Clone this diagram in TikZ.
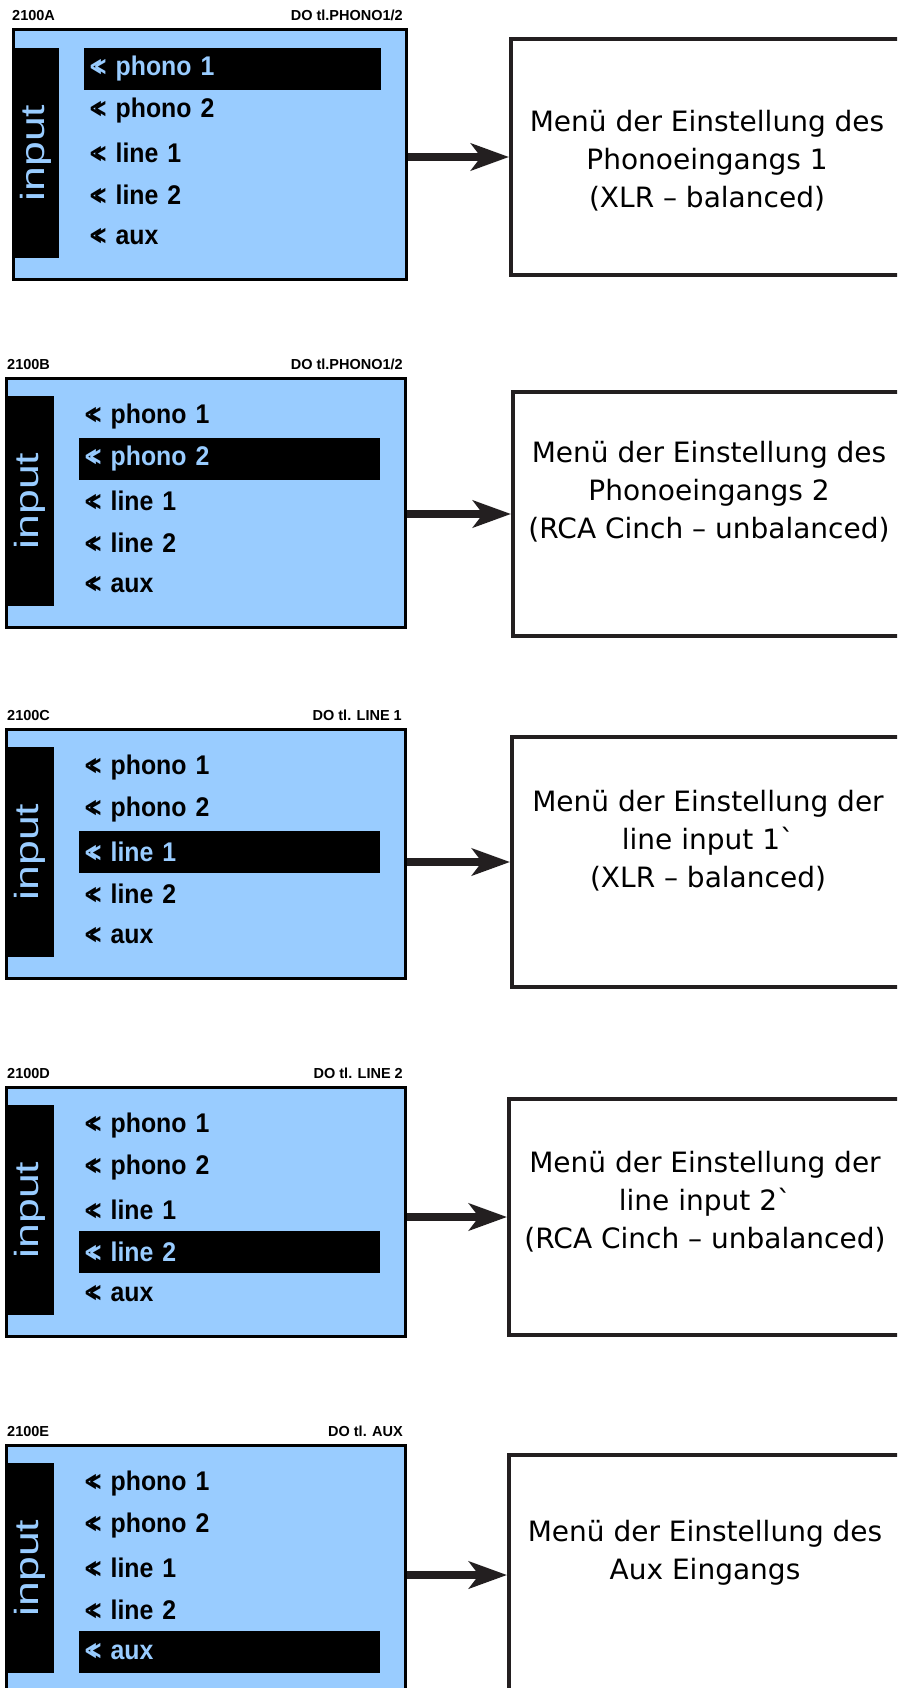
\documentclass[tikz,border=0pt]{standalone}
\usepackage{fontspec}
\setmainfont{Liberation Sans}
\newfontfamily\menufont[FakeStretch=0.92]{Liberation Sans}
\newfontfamily\inputfont[FakeStretch=1.33]{Liberation Sans}
\newfontfamily\symfont[FakeStretch=0.6]{DejaVu Sans}
\newfontfamily\boxfont[Ligatures=TeXOff]{DejaVu Sans}
\usetikzlibrary{arrows.meta}
\definecolor{lcdblue}{RGB}{153,204,255}
\definecolor{ink}{RGB}{35,31,32}
\newcommand{\chev}{{\symfont\fontsize{27}{27}\selectfont <\kern-9.2pt<}\hspace{8.5pt}}
\begin{document}
\begin{tikzpicture}[x=1pt, y=-1pt,
% the display frames:
panel/.style = {draw=black, line width=3pt, fill=lcdblue, anchor=north west,
            inner sep=0, minimum width=399pt, minimum height=249pt},
inbar/.style = {fill=black, text=lcdblue, rotate=90, inner sep=0,
            minimum width=210pt, minimum height=49pt,
            font=\inputfont\fontsize{33.5}{33.5}\selectfont},
item/.style = {anchor=west, minimum height=42pt, text width=291pt, inner xsep=5pt,
            inner ysep=0, align=left, font=\menufont\bfseries\fontsize{27}{27}\selectfont},
sel/.style = {item, fill=black, text=lcdblue},
tag/.style = {inner sep=0, font=\bfseries\fontsize{14.5}{14.5}\selectfont},
% the boxes on the right:
menubox/.style = {draw=ink, line width=4pt, minimum width=392pt},
boxtext/.style = {align=center, inner sep=0, font=\boxfont\fontsize{28}{38}\selectfont},
flow/.style = {draw=ink, line width=8pt, -{Stealth[length=38pt,width=27pt,inset=10pt]}}]
\useasboundingbox (0,0) rectangle (897,1688);
\fill[white] (0,0) rectangle (897,1688);
\clip (0,0) rectangle (897,1688);
% 2100A
\node[panel, minimum width=393pt] (pA) at (11.5,28.5) {};
\node[tag, anchor=base west] (nA) at (12,21) {2100A};
\node[tag, anchor=base east] (dA) at (403,21) {DO tl.PHONO1/2};
\node[inbar, minimum height=47pt] (iA) at (35.5,153) {input};
\node[sel, text width=287pt] (a1) at (84,69) {\chev phono 1};
\node[item, text width=287pt] (a2) at (84,111) {\chev phono 2};
\node[item, text width=287pt] (a3) at (84,153) {\chev line 1};
\node[item, text width=287pt] (a4) at (84,195) {\chev line 2};
\node[item, text width=287pt] (a5) at (84,237) {\chev aux};
\node[menubox, minimum height=236pt] (mA) at (707,157) {};
\node[boxtext] (tA) at ([yshift=-4pt]mA.center)
    {Menü der Einstellung des\\Phonoeingangs 1\\(XLR – balanced)};
\draw[flow] (mA.west -| pA.east) -- (mA.west);
% 2100B
\node[panel] (pB) at (4.5,376.5) {};
\node[tag, anchor=base west] (nB) at (7,369) {2100B};
\node[tag, anchor=base east] (dB) at (403,369) {DO tl.PHONO1/2};
\node[inbar] (iB) at (29.5,501) {input};
\node[item] (b1) at (79,417) {\chev phono 1};
\node[sel] (b2) at (79,459) {\chev phono 2};
\node[item] (b3) at (79,501) {\chev line 1};
\node[item] (b4) at (79,543) {\chev line 2};
\node[item] (b5) at (79,585) {\chev aux};
\node[menubox, minimum height=244pt] (mB) at (709,514) {};
\node[boxtext] (tB) at ([yshift=22pt]mB.center)
    {Menü der Einstellung des\\Phonoeingangs 2\\(RCA Cinch – unbalanced)};
\draw[flow] (mB.west -| pB.east) -- (mB.west);
% 2100C
\node[panel] (pC) at (4.5,727.5) {};
\node[tag, anchor=base west] (nC) at (7,720) {2100C};
\node[tag, anchor=base east] (dC) at (402,720) {DO tl. LINE 1};
\node[inbar] (iC) at (29.5,852) {input};
\node[item] (c1) at (79,768) {\chev phono 1};
\node[item] (c2) at (79,810) {\chev phono 2};
\node[sel] (c3) at (79,852) {\chev line 1};
\node[item] (c4) at (79,894) {\chev line 2};
\node[item] (c5) at (79,936) {\chev aux};
\node[menubox, minimum height=250pt] (mC) at (708,862) {};
\node[boxtext] (tC) at ([yshift=21pt]mC.center)
    {Menü der Einstellung der\\line input 1`\\(XLR – balanced)};
\draw[flow] (mC.west -| pC.east) -- (mC.west);
% 2100D
\node[panel] (pD) at (4.5,1085.5) {};
\node[tag, anchor=base west] (nD) at (7,1078) {2100D};
\node[tag, anchor=base east] (dD) at (403,1078) {DO tl. LINE 2};
\node[inbar] (iD) at (29.5,1210) {input};
\node[item] (d1) at (79,1126) {\chev phono 1};
\node[item] (d2) at (79,1168) {\chev phono 2};
\node[item] (d3) at (79,1210) {\chev line 1};
\node[sel] (d4) at (79,1252) {\chev line 2};
\node[item] (d5) at (79,1294) {\chev aux};
\node[menubox, minimum height=236pt] (mD) at (705,1217) {};
\node[boxtext] (tD) at ([yshift=15pt]mD.center)
    {Menü der Einstellung der\\line input 2`\\(RCA Cinch – unbalanced)};
\draw[flow] (mD.west -| pD.east) -- (mD.west);
% 2100E
\node[panel] (pE) at (4.5,1443.5) {};
\node[tag, anchor=base west] (nE) at (7,1436) {2100E};
\node[tag, anchor=base east] (dE) at (403,1436) {DO tl. AUX};
\node[inbar] (iE) at (29.5,1568) {input};
\node[item] (e1) at (79,1484) {\chev phono 1};
\node[item] (e2) at (79,1526) {\chev phono 2};
\node[item] (e3) at (79,1568) {\chev line 1};
\node[item] (e4) at (79,1610) {\chev line 2};
\node[sel] (e5) at (79,1652) {\chev aux};
\node[menubox, minimum height=240pt] (mE) at (705,1575) {};
\node[boxtext] (tE) at ([yshift=22pt]mE.center)
    {Menü der Einstellung des\\Aux Eingangs};
\draw[flow] (mE.west -| pE.east) -- (mE.west);
\end{tikzpicture}
\end{document}
